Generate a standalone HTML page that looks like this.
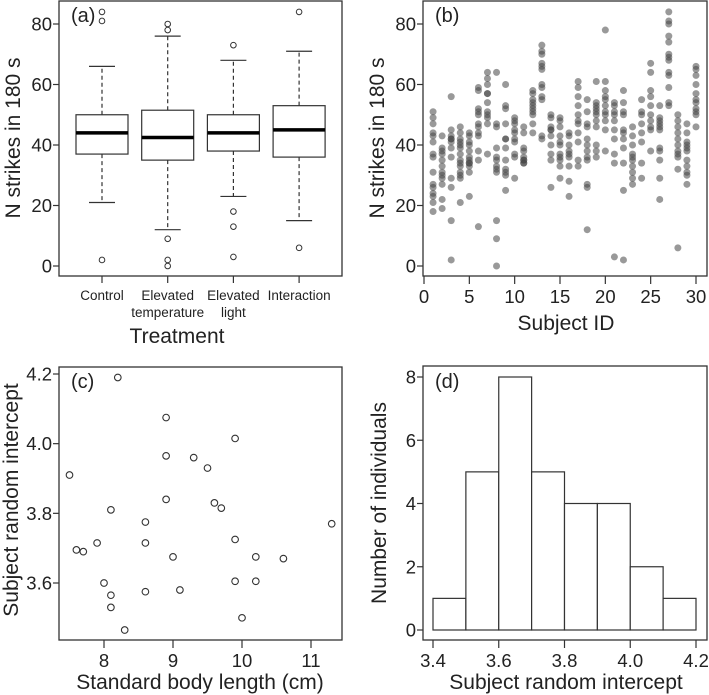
<!DOCTYPE html>
<html><head><meta charset="utf-8"><style>
html,body{margin:0;padding:0;background:#fff;}
svg{display:block;font-family:"Liberation Sans",Arial,sans-serif;}
</style></head><body>
<svg id="fig" width="709" height="695" viewBox="0 0 709 695" xmlns="http://www.w3.org/2000/svg"></svg>
<script>
// ---- Panel (a) data ----
const aCategories = [["Control"],["Elevated","temperature"],["Elevated","light"],["Interaction"]];
const aLowWhisker = [21,12,23,15];
const aQ1 = [37,35,38,36];
const aMedian = [44,42.5,44,45];
const aQ3 = [50,51.5,50,53];
const aHighWhisker = [66,76,68,71];
const aOutliers = [[84,81,2],[80,78,9,2,0],[73,18,13,3],[84,6]];
const aYTicks = [0,20,40,60,80];
// ---- Panel (b) data ----
const bSubjects = [1,2,3,4,5,6,7,8,9,10,11,12,13,14,15,16,17,18,19,20,21,22,23,24,25,26,27,28,29,30];
const bValues = [
[51,49,47,44,43,41,37,36,31,27,26,24,23,21,18],
[43,39,38,37,35,33,31,30,29,27,22,19],
[56,45,43,42,42,41,39,36,29,26,15,2],
[46,44,42,41,40,39,37,35,34,33,31,30,29,21],
[44,43,41,40,38,36,35,34,34,33,31,23],
[59,58,52,51,50,47,46,44,43,38,35,13],
[64,62,60,57,57,54,51,50,49,47,37],
[64,47,46,39,36,35,33,32,31,15,9,0],
[60,53,52,47,42,42,39,35,32,31,30,25],
[49,48,47,45,44,42,41,37,36,29],
[46,44,39,38,36,35,35,34,34],
[58,57,55,54,53,52,51,50,47,44],
[73,71,70,67,66,65,60,59,56,55,43,42],
[50,49,46,45,45,43,40,37,35,26],
[49,48,46,43,41,40,37,36,35,33,29],
[44,43,40,38,37,36,33,28,23],
[61,59,56,53,50,48,47,44,41,35,33],
[55,51,47,46,42,40,38,36,35,27,26,12],
[61,54,53,52,51,50,48,46,40,38,36],
[78,61,58,56,55,53,51,50,48,45,38],
[54,53,51,50,48,45,42,37,34,3],
[58,54,51,50,45,44,42,39,34,25,2],
[46,43,40,37,36,35,33,31,29,27],
[55,51,50,47,44,41,34,29],
[67,64,58,56,53,50,48,46,45,38],
[53,49,48,47,46,45,39,38,35,29,22],
[84,81,80,76,74,70,69,68,64,63,59,54,53],
[50,48,46,44,42,40,38,37,36,32,6],
[47,44,41,40,39,38,35,33,31,30,27],
[66,65,63,60,57,55,54,52,51,50,46]];
const bXTicks = [0,5,10,15,20,25,30];
const bYTicks = [0,20,40,60,80];
// ---- Panel (c) data ----
const cLength = [7.5,7.6,7.7,7.9,8.0,8.1,8.1,8.1,8.2,8.3,8.6,8.6,8.6,8.9,8.9,8.9,9.0,9.1,9.3,9.5,9.6,9.7,9.9,9.9,9.9,10.0,10.2,10.2,10.6,11.3];
const cIntercept = [3.91,3.695,3.69,3.715,3.60,3.81,3.565,3.53,4.19,3.465,3.775,3.715,3.575,4.075,3.965,3.84,3.675,3.58,3.96,3.93,3.83,3.815,4.015,3.725,3.605,3.50,3.675,3.605,3.67,3.77];
const cXTicks = [8,9,10,11];
const cYTicks = [3.6,3.8,4.0,4.2];
// ---- Panel (d) data ----
const dBinStarts = [3.4,3.5,3.6,3.7,3.8,3.9,4.0,4.1];
const dCounts = [1,5,8,5,4,4,2,1];
const dXTicks = [3.4,3.6,3.8,4.0,4.2];
const dYTicks = [0,2,4,6,8];

const NS="http://www.w3.org/2000/svg";
const svg=document.getElementById('fig');
function mk(tag,attrs,parent){const e=document.createElementNS(NS,tag);for(const k in attrs)e.setAttribute(k,attrs[k]);(parent||svg).appendChild(e);return e;}
function txt(s,attrs,parent){const e=mk('text',attrs,parent);e.textContent=s;return e;}
function lin(d0,d1,r0,r1){return v=>r0+(v-d0)*(r1-r0)/(d1-d0);}

const ayA=lin(0,80,266,24);
const axA=i=>102+i*65.7;
const bx=lin(0,30,424,696);
const cx=lin(8,11,104,311);
const cy=lin(3.6,4.2,583,374);
const dx=lin(3.4,4.2,433,696);
const dy=lin(0,8,630,377);

function frame(x0,y0,x1,y1,name){
  const r=mk('rect',{x:x0,y:y0,width:x1-x0,height:y1-y0,fill:'none',stroke:'#333','stroke-width':1.3});
  
  
}
function yAxis(ticks,sc,ax,fmt,name){
  const g=mk('g',{});
  
  
  ticks.forEach(t=>{const y=sc(t);mk('line',{x1:ax-6,x2:ax,y1:y,y2:y,stroke:'#333','stroke-width':1.2},g);
    txt(fmt(t),{x:ax-7,y:y+6.5,'font-size':18.5,'text-anchor':'end',fill:'#222'},g);});
}
function xAxis(ticks,sc,ay,fmt,name){
  const g=mk('g',{});
  
  
  ticks.forEach(t=>{const x=sc(t);mk('line',{x1:x,x2:x,y1:ay,y2:ay+8,stroke:'#333','stroke-width':1.2},g);
    txt(fmt(t),{x:x,y:ay+27,'font-size':18.5,'text-anchor':'middle',fill:'#222'},g);});
}
function title(s,x,y,rot,name){
  const t=txt(s,{x:x,y:y,'font-size':21,'text-anchor':'middle',fill:'#222',transform:rot?`rotate(-90 ${x} ${y})`:''});
  
  
}
function plabel(s,x,y,name){
  const t=txt(s,{x:x,y:y,'font-size':20,fill:'#222'});
  
  
}

// ===== Panel (a) =====
frame(59,1,342,276,'panel-a-frame');
yAxis(aYTicks,ayA,59,v=>String(v),'panel-a-y-axis');
plabel('(a)',71,22,'panel-a-label');
aCategories.forEach((c,i)=>{
  const x=axA(i),hw=26;
  const g=mk('g',{});
  
  
  mk('line',{x1:x,x2:x,y1:ayA(aQ3[i]),y2:ayA(aHighWhisker[i]),stroke:'#333','stroke-dasharray':'4,3','stroke-width':1.2},g);
  mk('line',{x1:x,x2:x,y1:ayA(aQ1[i]),y2:ayA(aLowWhisker[i]),stroke:'#333','stroke-dasharray':'4,3','stroke-width':1.2},g);
  mk('line',{x1:x-13,x2:x+13,y1:ayA(aHighWhisker[i]),y2:ayA(aHighWhisker[i]),stroke:'#333','stroke-width':1.2},g);
  mk('line',{x1:x-13,x2:x+13,y1:ayA(aLowWhisker[i]),y2:ayA(aLowWhisker[i]),stroke:'#333','stroke-width':1.2},g);
  mk('rect',{x:x-hw,y:ayA(aQ3[i]),width:2*hw,height:ayA(aQ1[i])-ayA(aQ3[i]),fill:'#fff',stroke:'#333','stroke-width':1.2},g);
  mk('line',{x1:x-hw,x2:x+hw,y1:ayA(aMedian[i]),y2:ayA(aMedian[i]),stroke:'#000','stroke-width':3.5},g);
  aOutliers[i].forEach(o=>mk('circle',{cx:x,cy:ayA(o),r:2.8,fill:'none',stroke:'#333','stroke-width':1},g));
  mk('line',{x1:x,x2:x,y1:276,y2:283,stroke:'#333','stroke-width':1.2},g);
  c.forEach((l,k)=>txt(l,{x:x,y:300+k*17,'font-size':13.5,'text-anchor':'middle',fill:'#222'},g));
});
title('N strikes in 180 s',20,138,true,'panel-a-y-title');
title('Treatment',177,343,false,'panel-a-x-title');

// ===== Panel (b) =====
frame(423,1,707,276,'panel-b-frame');
yAxis(bYTicks,ayA,423,v=>String(v),'panel-b-y-axis');
xAxis(bXTicks,bx,276,v=>String(v),'panel-b-x-axis');
plabel('(b)',435,22,'panel-b-label');
const gb=mk('g',{});


bSubjects.forEach((s,i)=>{
  bValues[i].forEach(v=>{
    const c=mk('circle',{cx:bx(s),cy:ayA(v),r:3.5,fill:'rgba(70,70,70,0.55)'},gb);
    
    
  });
});
title('N strikes in 180 s',384,138,true,'panel-b-y-title');
title('Subject ID',566,330,false,'panel-b-x-title');

// ===== Panel (c) =====
frame(59,367,342,640,'panel-c-frame');
yAxis(cYTicks,cy,59,v=>v.toFixed(1),'panel-c-y-axis');
xAxis(cXTicks,cx,640,v=>String(v),'panel-c-x-axis');
plabel('(c)',71,388,'panel-c-label');
const gc=mk('g',{});


cLength.forEach((l,i)=>{
  const c=mk('circle',{cx:cx(l),cy:cy(cIntercept[i]),r:3.3,fill:'none',stroke:'#333','stroke-width':1.1},gc);
  
  
});
title('Subject random intercept',18,500,true,'panel-c-y-title');
title('Standard body length (cm)',200,689,false,'panel-c-x-title');

// ===== Panel (d) =====
frame(423,366,707,640,'panel-d-frame');
yAxis(dYTicks,dy,423,v=>String(v),'panel-d-y-axis');
xAxis(dXTicks,dx,640,v=>v.toFixed(1),'panel-d-x-axis');
plabel('(d)',435,388,'panel-d-label');
dBinStarts.forEach((b,i)=>{
  const x0=dx(b),x1=dx(b+0.1);
  const r=mk('rect',{x:x0,y:dy(dCounts[i]),width:x1-x0,height:dy(0)-dy(dCounts[i]),fill:'#fff',stroke:'#333','stroke-width':1.2});
  
  
});
title('Number of individuals',386,503,true,'panel-d-y-title');
title('Subject random intercept',566,689,false,'panel-d-x-title');
</script>
</body></html>
